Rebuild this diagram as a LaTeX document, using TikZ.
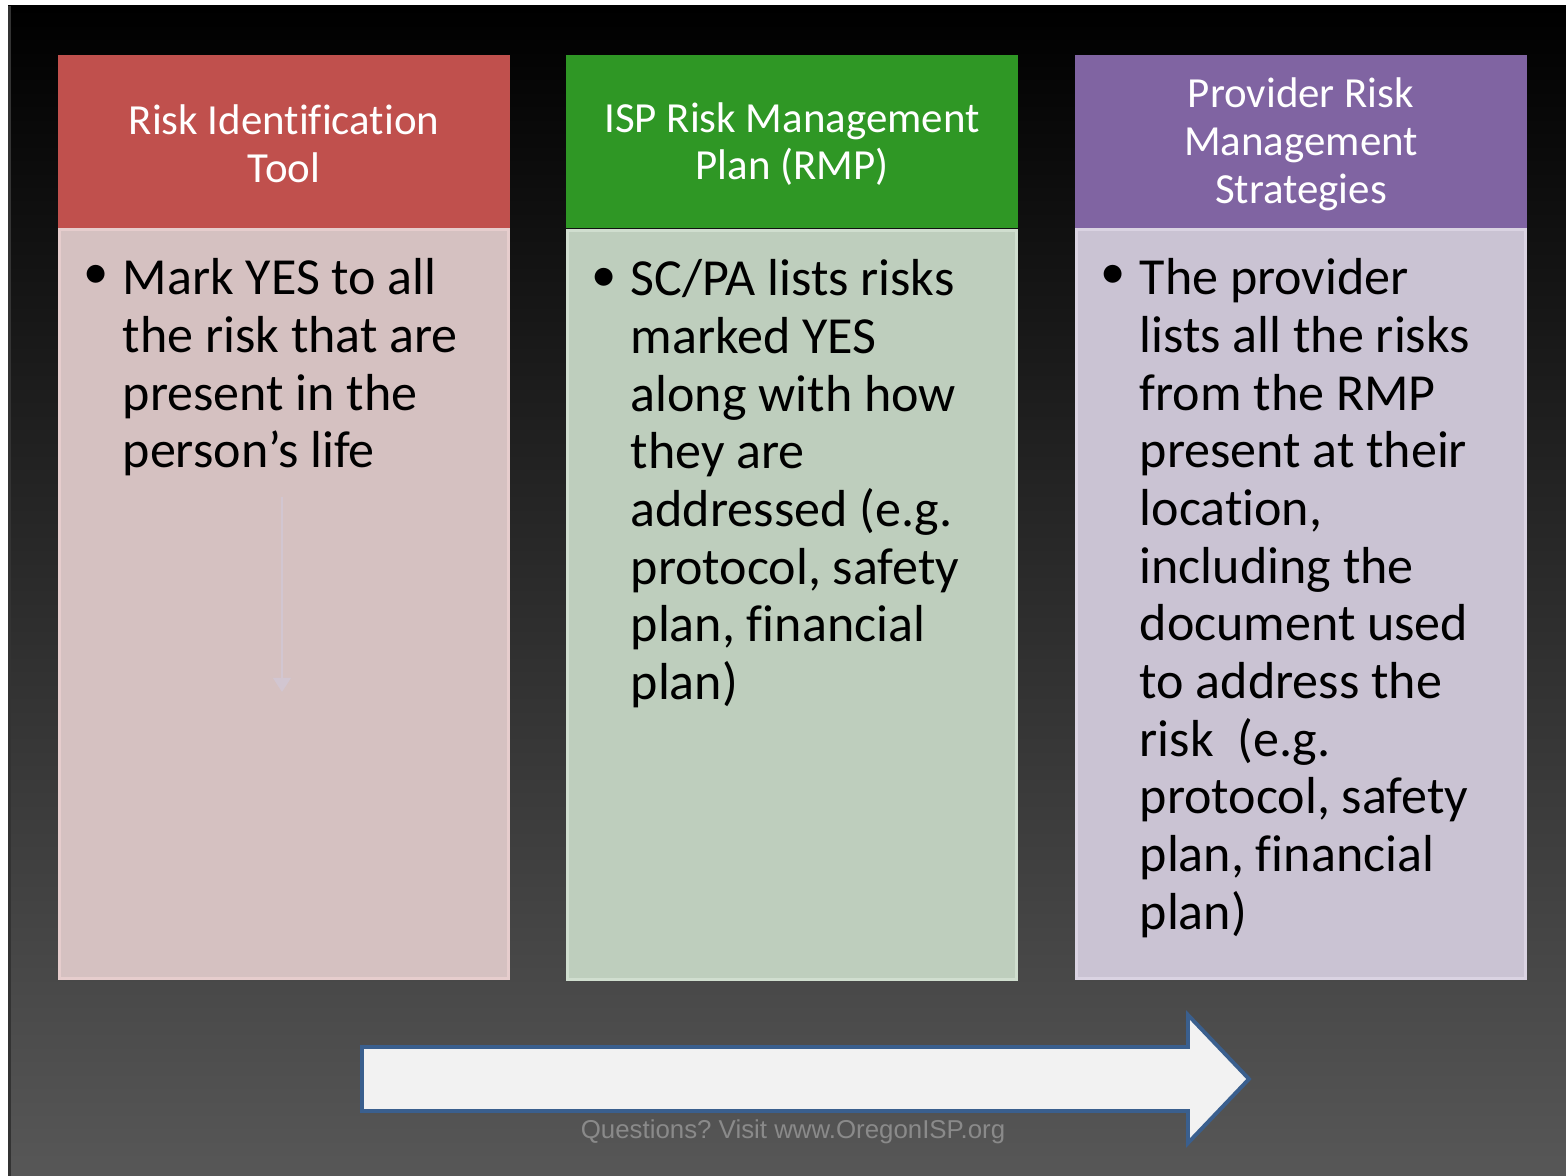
\documentclass[tikz,border=0pt]{standalone}
\usepackage{fontspec}
\setmainfont{Carlito}[Ligatures=NoCommon]
\newfontfamily\footfont{Liberation Sans}
\usetikzlibrary{arrows.meta}
\frenchspacing

\definecolor{bgbot}{RGB}{87,87,87}
\definecolor{redhead}{HTML}{C0504D}
\definecolor{redbody}{HTML}{D5C1C1}
\definecolor{redline}{HTML}{E6CDCD}
\definecolor{greenhead}{HTML}{2F9725}
\definecolor{greenbody}{HTML}{BECEBD}
\definecolor{greenline}{HTML}{D0DECF}
\definecolor{purplehead}{HTML}{8064A2}
\definecolor{purplebody}{HTML}{CAC3D3}
\definecolor{purpleline}{HTML}{DAD3E2}
\definecolor{arrowblue}{HTML}{3A5F8E}

\begin{document}
\begin{tikzpicture}[x=0.01cm, y=-0.01cm,
    head/.style = {minimum width=4.52cm, minimum height=1.73cm, inner sep=0, text=white, align=center, font=\fontsize{12.2}{13.6}\selectfont},
    body/.style = {minimum width=4.49cm, minimum height=7.49cm, inner sep=0, line width=0.85pt},
    bul/.style = {inner sep=0, font=\fontsize{14.4}{16.4}\selectfont},
    txt/.style = {anchor=north west, inner sep=0, align=left, font=\fontsize{14.8}{16.4}\selectfont}]
    \useasboundingbox (0,0) rectangle (1566,1176);
    \fill[white] (0,0) rectangle (1566,1176);
    \shade[top color=black, bottom color=bgbot] (8,6) rectangle (1566,1176);
    \fill[black!80] (8,6) rectangle (11,1176);
    % the three columns
    \node[body, fill=redbody, draw=redline] (b1) at (284,604) {};
    \node[body, fill=greenbody, draw=greenline] (b2) at (792,605) {};
    \node[body, fill=purplebody, draw=purpleline] (b3) at (1301,604) {};
    \node[head, fill=redhead] (h1) at (284,141.5) {};
    \node[head, fill=greenhead] (h2) at (792,141.5) {};
    \node[head, fill=purplehead] (h3) at (1301,141.5) {};
    \node[head, minimum height=0pt, text=white] (l1) at (284,144) {Risk Identification\\Tool};
    \node[head, minimum height=0pt, text=white] (l2) at (792,144) {ISP Risk Management\\Plan (RMP)};
    \node[head, minimum height=0pt, text=white] (l3) at (1301,144.5) {Provider Risk\\Management\\Strategies};
    \node[bul] (d1) at (96,277) {•};
    \node[bul] (d2) at (604,280) {•};
    \node[bul] (d3) at (1113,277) {•};
    \node[txt] (t1) at (122,258) {Mark YES to all\\the risk that are\\present in the\\person’s life};
    \node[txt] (t2) at (630,259) {SC/PA lists risks\\marked YES\\along with how\\they are\\addressed (e.g.\\protocol, safety\\plan, financial\\plan)};
    \node[txt] (t3) at (1139,258) {The provider\\lists all the risks\\from the RMP\\present at their\\location,\\including the\\document used\\to address the\\risk~~(e.g.\\protocol, safety\\plan, financial\\plan)};
    \coordinate (f1) at (282,497);
    \coordinate (f2) at (282,692);
    \draw[-{Triangle[width=5pt,length=4pt]}, line width=0.6pt, draw=purplebody!70!redline] (f1) -- (f2);
    % big arrow
    \draw[fill=black!5, draw=arrowblue, line width=1.1pt] (362,1047) -- (1188,1047) -- (1188,1015) -- (1249,1079) -- (1188,1143) -- (1188,1111) -- (362,1111) -- cycle;
    \node[text=black!46, inner sep=0, font=\footfont\fontsize{7.35}{8}\selectfont] (q) at (793,1132) {Questions? Visit www.OregonISP.org};
\end{tikzpicture}
\end{document}
